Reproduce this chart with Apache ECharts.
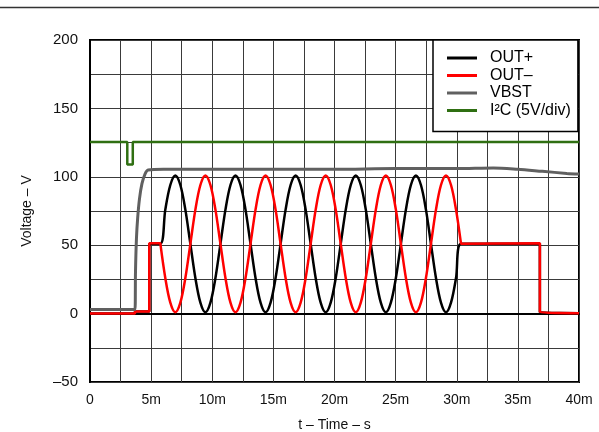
<!DOCTYPE html>
<html>
<head>
<meta charset="utf-8">
<script src="https://cdn.jsdelivr.net/npm/echarts@6/dist/echarts.min.js"></script>
<style>
html,body{margin:0;padding:0;background:#fff;}
#chart{width:599px;height:432px;}
</style>
</head>
<body>
<div id="chart"></div>
<script>
// ---- Data (time in ms, voltage in V) ----
var seriesNames = ['OUT+', 'OUT–', 'VBST', 'I²C (5V/div)'];
var xTickLabels = ['0', '5m', '10m', '15m', '20m', '25m', '30m', '35m', '40m'];
var yTickLabels = ['–50', '0', '50', '100', '150', '200'];

var sineTimes = [5.75, 6.16, 6.57, 6.98, 7.39, 7.80, 8.21, 8.62, 9.03, 9.44, 9.85, 10.26,
  10.67, 11.08, 11.49, 11.90, 12.31, 12.72, 13.13, 13.54, 13.95, 14.36, 14.77, 15.18,
  15.59, 16.00, 16.41, 16.82, 17.23, 17.64, 18.05, 18.46, 18.87, 19.28, 19.69, 20.10,
  20.51, 20.92, 21.33, 21.74, 22.15, 22.56, 22.97, 23.38, 23.79, 24.20, 24.61, 25.02,
  25.43, 25.84, 26.25, 26.66, 27.07, 27.48, 27.89, 28.30, 28.71, 29.12, 29.53, 29.94, 30.35];

var outPlusSine = [51, 76, 94, 101, 94, 76, 51, 26, 8, 1, 8, 26,
  51, 76, 94, 101, 94, 76, 51, 26, 8, 1, 8, 26,
  51, 76, 94, 101, 94, 76, 51, 26, 8, 1, 8, 26,
  51, 76, 94, 101, 94, 76, 51, 26, 8, 1, 8, 26,
  51, 76, 94, 101, 94, 76, 51, 26, 8, 1, 8, 26, 51];

var outMinusSine = [51, 26, 8, 1, 8, 26, 51, 76, 94, 101, 94, 76,
  51, 26, 8, 1, 8, 26, 51, 76, 94, 101, 94, 76,
  51, 26, 8, 1, 8, 26, 51, 76, 94, 101, 94, 76,
  51, 26, 8, 1, 8, 26, 51, 76, 94, 101, 94, 76,
  51, 26, 8, 1, 8, 26, 51, 76, 94, 101, 94, 76, 51];

var outPlusBefore = [[0, 0], [3.68, 0], [3.68, 1.5], [4.85, 1.5], [4.85, 51], [5.75, 51]];
var outPlusAfter = [[36.8, 51], [36.8, 1], [40, 0.3]];
var outMinusBefore = [[0, 0], [3.68, 0], [3.68, 1.5], [4.85, 1.5], [4.85, 51.5], [5.75, 51.5]];
var outMinusAfter = [[30.35, 51.5], [36.8, 51.5], [36.8, 1], [40, 0.3]];

var vbst = [[0, 3], [3.68, 3], [3.72, 30], [3.8, 55], [3.9, 70], [4.05, 84], [4.25, 95],
  [4.5, 102], [4.75, 105], [6, 105.5], [10, 105.5], [15, 105.5], [20, 105.5], [25, 106],
  [30, 106], [33, 106.5], [35, 105.5], [37, 104], [39, 102.5], [40, 102]];

var i2c = [[0, 125.5], [3.05, 125.5], [3.05, 109], [3.5, 109], [3.5, 125.5], [40, 125.5]];

// ---- Build ----
function zip(ts, vs) { return ts.map(function (t, i) { return [t, vs[i]]; }); }
var outPlus = outPlusBefore.concat(zip(sineTimes, outPlusSine)).concat(outPlusAfter);
var outMinus = outMinusBefore.concat(zip(sineTimes, outMinusSine)).concat(outMinusAfter);

var font = 'Liberation Sans, Arial, Helvetica, sans-serif';
var chart = echarts.init(document.getElementById('chart'), null, {renderer: 'canvas'});
chart.setOption({
  animation: false,
  backgroundColor: '#fff',
  textStyle: {fontFamily: font},
  grid: {left: 90, right: 20, top: 40, bottom: 50, show: true, borderColor: '#000', borderWidth: 2,
    backgroundColor: 'transparent', containLabel: false, outerBoundsMode: 'none'},
  graphic: [{type: 'line', shape: {x1: 0, y1: 7.5, x2: 599, y2: 7.5}, style: {stroke: '#333', lineWidth: 1.5}}],
  legend: {
    orient: 'vertical', left: 433, top: 40,
    data: seriesNames,
    icon: 'rect', itemWidth: 30, itemHeight: 3, itemGap: 1.5,
    backgroundColor: '#fff', borderColor: '#000', borderWidth: 1.5,
    padding: [10, 7, 13, 14],
    textStyle: {fontFamily: font, fontSize: 16, color: '#000', lineHeight: 16, padding: [0, 0, 0, 8]}
  },
  xAxis: {
    type: 'value', min: 0, max: 40, interval: 2.5,
    name: 't – Time – s', nameLocation: 'middle', nameGap: 36,
    nameTextStyle: {fontFamily: font, fontSize: 14, color: '#111'},
    axisLine: {show: true, lineStyle: {color: '#000', width: 2}},
    axisTick: {show: false},
    axisLabel: {fontFamily: font, fontSize: 14, color: '#111', margin: 11,
      formatter: function (v) { var i = Math.round(v / 5); return Math.abs(v - i * 5) < 1e-6 ? xTickLabels[i] : ''; }},
    splitLine: {show: true, lineStyle: {color: '#3a3a3a', width: 1}}
  },
  yAxis: {
    type: 'value', min: -50, max: 200, interval: 25,
    name: 'Voltage – V', nameLocation: 'middle', nameGap: 56, nameRotate: 90,
    nameTextStyle: {fontFamily: font, fontSize: 14, color: '#111'},
    axisLine: {show: true, lineStyle: {color: '#000', width: 2}},
    axisTick: {show: false},
    axisLabel: {fontFamily: font, fontSize: 15, color: '#111', margin: 12,
      formatter: function (v) { var i = Math.round((v + 50) / 50); return Math.abs(v + 50 - i * 50) < 1e-6 ? yTickLabels[i] : ''; }},
    splitLine: {show: true, lineStyle: {color: '#3a3a3a', width: 1}}
  },
  series: [
    {name: seriesNames[0], type: 'line', data: outPlus, smooth: 0.33, showSymbol: false, symbol: 'none',
      lineStyle: {color: '#000', width: 2.5}, itemStyle: {color: '#000'}},
    {name: seriesNames[1], type: 'line', data: outMinus, smooth: 0.33, showSymbol: false, symbol: 'none',
      lineStyle: {color: '#ff0000', width: 2.5}, itemStyle: {color: '#ff0000'}},
    {name: seriesNames[2], type: 'line', data: vbst, smooth: 0.3, showSymbol: false, symbol: 'none',
      lineStyle: {color: '#606060', width: 3}, itemStyle: {color: '#606060'}},
    {name: seriesNames[3], type: 'line', data: i2c, showSymbol: false, symbol: 'none',
      lineStyle: {color: '#2f6f12', width: 2.5}, itemStyle: {color: '#2f6f12'}}
  ]
});
</script>
</body>
</html>
